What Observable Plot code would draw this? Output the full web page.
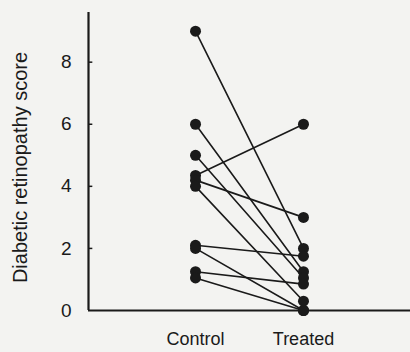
<!DOCTYPE html>
<html>
<head>
<meta charset="utf-8">
<script src="https://cdn.jsdelivr.net/npm/d3@7"></script>
<script src="https://cdn.jsdelivr.net/npm/@observablehq/plot@0.6"></script>
<style>
  html, body { margin: 0; padding: 0; background: #f3f3f1; }
  #chart svg { display: block; }
</style>
</head>
<body>
<div id="chart"></div>
<script>
const groups = ["Control", "Treated"];
const control = [9, 6, 5, 4.35, 4.2, 4.0, 2.1, 2.0, 1.25, 1.05];
const treated = [2.0, 1.25, 1.05, 6, 3, 0.3, 1.75, 0, 0.85, 0];
const yTicks = [0, 2, 4, 6, 8];
const yLabel = "Diabetic retinopathy score";

const data = control.flatMap((c, i) => [
  {subject: i, group: 0, score: c},
  {subject: i, group: 1, score: treated[i]}
]);

const ink = "#1a1a1a";
const xDomain = [-0.991, 1.991];
const yDomain = [0, 9.6];
const tickLen = 0.04;

const chart = Plot.plot({
  width: 410,
  height: 352,
  marginLeft: 88,
  marginRight: 0,
  marginTop: 12,
  marginBottom: 42,
  style: {background: "#f3f3f1", fontFamily: "'Liberation Sans', Arial, sans-serif", color: ink},
  x: {domain: xDomain},
  y: {domain: yDomain},
  marks: [
    Plot.axisY({ticks: yTicks, tickSize: 0, tickPadding: 17, fontSize: 19, label: null}),
    Plot.axisX({ticks: [0, 1], tickFormat: i => groups[i], tickSize: 0, tickPadding: 22, fontSize: 18, label: null}),
    Plot.ruleY(yTicks.filter(v => v > 0), {x1: xDomain[0], x2: xDomain[0] + tickLen, stroke: ink, strokeWidth: 1.5}),
    Plot.ruleX([xDomain[0]], {y1: yDomain[0], y2: yDomain[1], stroke: ink, strokeWidth: 2.2}),
    Plot.ruleY([0], {stroke: ink, strokeWidth: 2.2}),
    Plot.line(data, {x: "group", y: "score", z: "subject", stroke: ink, strokeWidth: 1.6}),
    Plot.dot(data, {x: "group", y: "score", r: 5.5, fill: ink, stroke: "none"}),
    Plot.text([yLabel], {frameAnchor: "left", textAnchor: "middle", rotate: -90, dx: -68, dy: 6, fontSize: 20, fill: ink})
  ]
});
document.getElementById("chart").appendChild(chart);
</script>
</body>
</html>
